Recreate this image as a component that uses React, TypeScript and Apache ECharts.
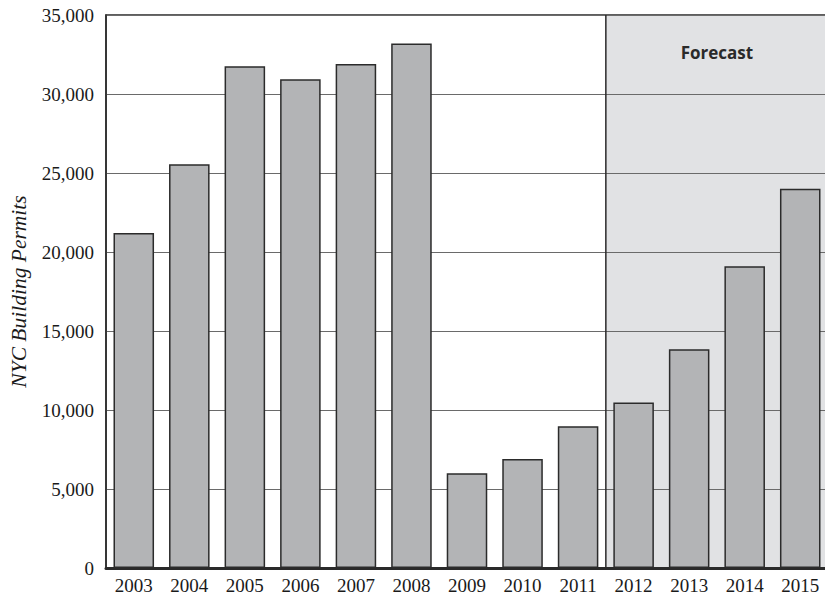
import React, { useEffect, useRef } from "react";
import * as echarts from "echarts";

const years = ["2003", "2004", "2005", "2006", "2007", "2008", "2009", "2010", "2011", "2012", "2013", "2014", "2015"];
const permits = [21200, 25550, 31750, 30930, 31900, 33200, 6000, 6900, 8970, 10470, 13840, 19100, 24000];
const forecastStart = "2012";
const forecastEnd = "2015";
const forecastLabel = "Forecast";
const yAxisTitle = "NYC Building Permits";

export default function App() {
  const ref = useRef<HTMLDivElement>(null);
  useEffect(() => {
    if (!ref.current) return;
    const chart = echarts.init(ref.current, undefined, { renderer: "svg" });
    const serif = "Liberation Serif";
    chart.setOption({
      animation: false,
      backgroundColor: "#ffffff",
      textStyle: { fontFamily: serif },
      grid: {
        left: 102,
        right: 5,
        top: 15,
        bottom: 34,
        show: true,
        borderColor: "#2a2a2a",
        borderWidth: 1.5,
        backgroundColor: "transparent",
      },
      xAxis: {
        type: "category",
        data: years,
        axisLine: { show: true, lineStyle: { color: "#2a2a2a", width: 3 } },
        axisTick: { show: false },
        axisLabel: { color: "#1a1a1a", fontFamily: serif, fontSize: 19, margin: 8 },
        splitLine: { show: false },
      },
      yAxis: {
        type: "value",
        min: 0,
        max: 35000,
        interval: 5000,
        name: yAxisTitle,
        nameLocation: "middle",
        nameGap: 76,
        nameTextStyle: { fontFamily: serif, fontSize: 21.5, fontStyle: "italic", color: "#1a1a1a" },
        axisLine: { show: true, lineStyle: { color: "#2a2a2a", width: 1.5 } },
        axisTick: { show: false },
        axisLabel: {
          color: "#1a1a1a",
          fontFamily: serif,
          fontSize: 19,
          margin: 12,
          formatter: (v: number) => v.toLocaleString("en-US"),
        },
        splitLine: { show: true, lineStyle: { color: "#6a6a6a", width: 1 } },
      },
      series: [
        {
          type: "bar",
          data: permits,
          barCategoryGap: "27%",
          itemStyle: { color: "#b3b4b6", borderColor: "#2b2b2b", borderWidth: 1.5 },
          z: 3,
        },
      ],
    });

    const x0 = chart.convertToPixel({ xAxisIndex: 0 }, forecastStart) as number;
    const x1 = chart.convertToPixel({ xAxisIndex: 0 }, forecastEnd) as number;
    const xPrev = chart.convertToPixel({ xAxisIndex: 0 }, years[years.indexOf(forecastStart) - 1]) as number;
    const band = x0 - xPrev;
    const left = x0 - band / 2;
    const right = x1 + band / 2;
    const top = chart.convertToPixel({ yAxisIndex: 0 }, 35000) as number;
    const bottom = chart.convertToPixel({ yAxisIndex: 0 }, 0) as number;

    chart.setOption({
      graphic: [
        {
          type: "rect",
          z: -1,
          silent: true,
          shape: { x: left, y: top, width: right - left, height: bottom - top },
          style: { fill: "#e1e2e4" },
        },
        {
          type: "line",
          z: 10,
          silent: true,
          shape: { x1: left, y1: top, x2: left, y2: bottom },
          style: { stroke: "#2a2a2a", lineWidth: 1.5 },
        },
        {
          type: "text",
          z: 10,
          silent: true,
          x: (left + right) / 2,
          y: top + 37,
          style: {
            text: forecastLabel,
            fill: "#2a2a2a",
            font: "bold 17px 'Open Sans', sans-serif",
            align: "center",
            verticalAlign: "middle",
          },
        },
      ],
    });

    return () => chart.dispose();
  }, []);
  return <div ref={ref} style={{ width: 833, height: 602, margin: -8 }} />;
}
